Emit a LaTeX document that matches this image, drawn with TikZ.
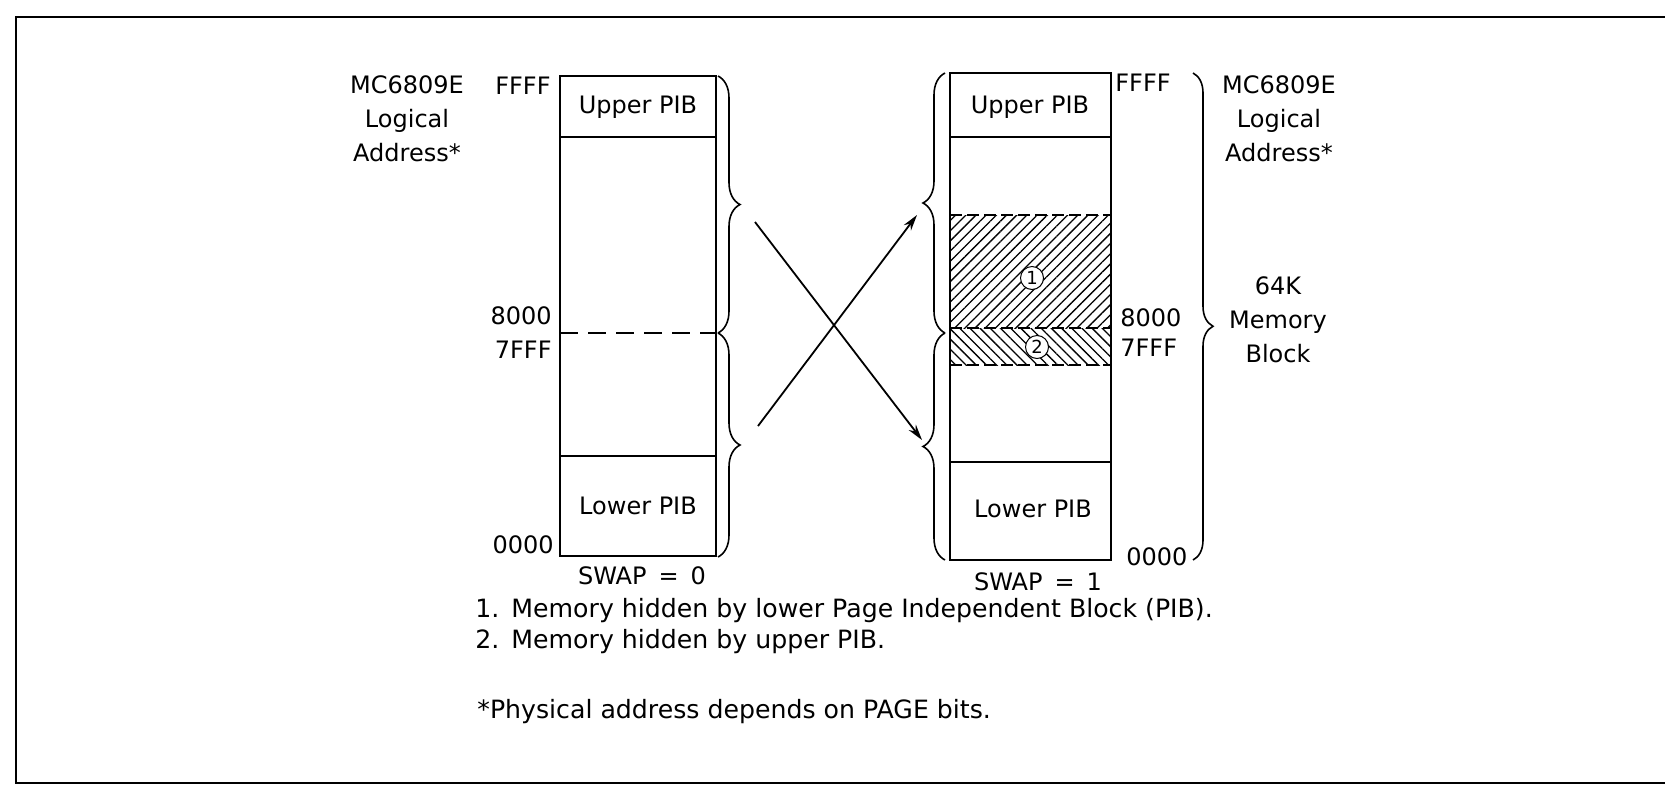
\documentclass[tikz,border=0pt]{standalone}
\usepackage{fontspec}
\setmainfont{DejaVu Sans}
\usepackage{tikz}
\usetikzlibrary{arrows.meta,positioning,decorations.pathreplacing,patterns.meta}

\begin{document}
\begin{tikzpicture}[
  x=0.5pt, y=-0.5pt,
  lbl/.style={font=\fontsize{12}{17}\selectfont, inner sep=0pt, align=center},
  note/.style={font=\fontsize{12.6}{15}\selectfont, inner sep=0pt, anchor=west},
  blk/.style={line width=0.8pt},
  brc/.style={decorate, decoration={brace, amplitude=11pt}, line width=0.8pt},
  arr/.style={-{Stealth[length=8pt,width=4.5pt]}, line width=0.9pt},
  hid/.style={circle, draw, fill=white, inner sep=0pt, minimum size=11.5pt, line width=0.5pt, font=\fontsize{9}{9}\selectfont}
]
\useasboundingbox (0,0) rectangle (1665,794);
\draw[line width=1pt] (1665,17) -- (16,17) -- (16,783) -- (1665,783);

% SWAP = 0
\coordinate (Ltl) at (560,76);
\coordinate (Lbr) at (716,556);
\draw[blk] (Ltl) rectangle (Lbr);
\draw[blk] (560,137) -- (716,137);
\draw[blk] (560,456) -- (716,456);
\draw[blk, dash pattern=on 9pt off 5pt] (560,333) -- (716,333);
\node[lbl] (lup) at (638,107) {Upper PIB};
\node[lbl] (llo) at (638,506) {Lower PIB};
\node[lbl, anchor=east] (lffff) at (551,86) {FFFF};
\node[lbl, anchor=east] (l8000) at (552,316) {8000};
\node[lbl, anchor=east] (l7fff) at (552,350) {7FFF};
\node[lbl, anchor=east] (l0000) at (554,545) {0000};
\node[lbl] (ltitle) at (407,119) {MC6809E\\Logical\\Address*};
\node[lbl] (lswap) at (642,576) {SWAP\enspace=\enspace0};
\draw[brc] (718,76) -- (718,333);
\draw[brc] (718,333) -- (718,557);

% SWAP = 1
\coordinate (Rtl) at (950,73);
\coordinate (Rbr) at (1111,560);
\fill[pattern={Lines[angle=45,distance=3.6pt,line width=0.65pt]}] (950,215) rectangle (1111,328);
\fill[pattern={Lines[angle=-45,distance=3.6pt,line width=0.65pt]}] (950,328) rectangle (1111,365);
\draw[blk] (Rtl) rectangle (Rbr);
\draw[blk] (950,137) -- (1111,137);
\draw[blk] (950,462) -- (1111,462);
\draw[blk, dash pattern=on 6pt off 2.5pt] (950,215) -- (1111,215);
\draw[blk, dash pattern=on 6pt off 2.5pt] (950,328) -- (1111,328);
\draw[blk, dash pattern=on 6pt off 2.5pt] (950,365) -- (1111,365);
\node[lbl] (rup) at (1030,107) {Upper PIB};
\node[lbl] (rlo) at (1033,509) {Lower PIB};
\node[hid] (h1) at (1032,278) {1};
\node[hid] (h2) at (1037,347) {2};
\node[lbl, anchor=west] (rffff) at (1115,83) {FFFF};
\node[lbl, anchor=west] (r8000) at (1120,318) {8000};
\node[lbl, anchor=west] (r7fff) at (1120,348) {7FFF};
\node[lbl, anchor=west] (r0000) at (1126,557) {0000};
\node[lbl] (rtitle) at (1279,119) {MC6809E\\Logical\\Address*};
\node[lbl] (rblock) at (1278,320) {64K\\Memory\\Block};
\node[lbl] (rswap) at (1038,582) {SWAP\enspace=\enspace1};
\draw[brc] (945,333) -- (945,73);
\draw[brc] (945,560) -- (945,333);
\draw[brc, decoration={amplitude=10pt, aspect=0.52}] (1193,73) -- (1193,560);

% swap arrows
\coordinate (s1) at (755,222);
\coordinate (t1) at (922,440);
\coordinate (s2) at (758,426);
\coordinate (t2) at (917,215);
\draw[arr] (s1) -- (t1);
\draw[arr] (s2) -- (t2);

% notes
\node[note] (n1) at (475,611) {1.\hspace{6pt}Memory hidden by lower Page Independent Block (PIB).};
\node[note] (n2) at (475,642) {2.\hspace{6pt}Memory hidden by upper PIB.};
\node[note] (n3) at (477,712) {*Physical address depends on PAGE bits.};
\end{tikzpicture}
\end{document}
